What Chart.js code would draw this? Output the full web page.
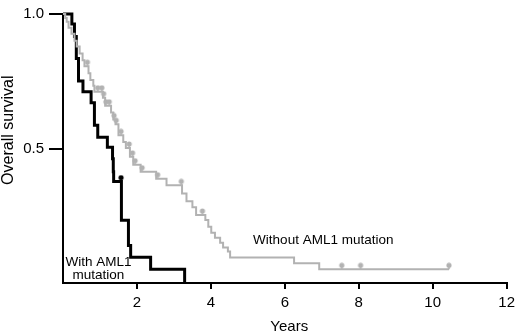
<!DOCTYPE html>
<html>
<head>
<meta charset="utf-8">
<script src="https://cdn.jsdelivr.net/npm/chart.js@4.4.1/dist/chart.umd.min.js"></script>
<style>
  html, body { margin: 0; padding: 0; background: #fff; }
  canvas { display: block; }
</style>
</head>
<body>
<canvas id="km" width="520" height="334"></canvas>
<script>
// Kaplan-Meier steps: time of drop (years) and survival after the drop
const withoutTimes = [0.06, 0.10, 0.15, 0.23, 0.31, 0.37, 0.45, 0.53, 0.58, 0.69, 0.74, 0.82, 0.85,
  1.08, 1.14, 1.30, 1.36, 1.42, 1.50, 1.63, 1.70, 1.81, 1.90, 2.10, 2.52, 2.80, 3.22, 3.34, 3.50,
  3.60, 3.85, 3.93, 4.01, 4.11, 4.25, 4.33, 4.46, 4.52, 6.25, 6.93];
const withoutSurv = [0.985, 0.971, 0.949, 0.927, 0.901, 0.879, 0.853, 0.828, 0.806, 0.780, 0.755, 0.733, 0.711,
  0.689, 0.659, 0.634, 0.608, 0.590, 0.549, 0.524, 0.502, 0.469, 0.440, 0.414, 0.388, 0.363, 0.333, 0.304, 0.282,
  0.253, 0.234, 0.209, 0.187, 0.168, 0.150, 0.132, 0.117, 0.095, 0.073, 0.051];
const withoutEnd = 10.44;
const withoutCensored = [0.66, 0.94, 1.05, 1.10, 1.16, 1.25, 1.38, 1.44, 1.57, 1.79, 1.88, 1.95, 2.14,
  2.56, 3.20, 3.77, 7.54, 8.05, 10.44];

const withTimes = [0.24, 0.31, 0.36, 0.42, 0.54, 0.76, 0.85, 0.94, 1.20, 1.34, 1.36, 1.37, 1.58, 1.77, 1.83, 2.37, 3.29];
const withSurv = [0.963, 0.916, 0.835, 0.751, 0.711, 0.670, 0.586, 0.542, 0.505, 0.462, 0.414, 0.377, 0.233, 0.139, 0.096, 0.051, 0];
const withCensored = [1.57];

const xTicks = [2, 4, 6, 8, 10, 12];
const yTicks = [0.5, 1.0];

const FONT = "'Liberation Sans', Arial, sans-serif";

// build step points starting at (0, 1)
function stepPoints(times, surv, end) {
  const pts = [{ x: 0, y: 1 }];
  times.forEach((t, i) => pts.push({ x: t, y: surv[i] }));
  if (end !== undefined) pts.push({ x: end, y: surv[surv.length - 1] });
  return pts;
}

// survival value of the curve at time t
function survAt(times, surv, t) {
  let s = 1;
  times.forEach((ti, i) => { if (ti <= t) s = surv[i]; });
  return s;
}

// censor mark: short stem with a dot on top, centered on the curve
function censorMark(color) {
  const c = document.createElement('canvas');
  c.width = 8; c.height = 14;
  const g = c.getContext('2d');
  g.strokeStyle = color;
  g.fillStyle = color;
  g.lineWidth = 1.5;
  g.beginPath(); g.moveTo(4, 7); g.lineTo(4, 3); g.stroke();
  g.beginPath(); g.arc(4, 3, 2.6, 0, Math.PI * 2); g.fill();
  return c;
}

const GRAY = '#b2b2b2';

const labelsPlugin = {
  id: 'labels',
  afterDraw(chart) {
    const { ctx, scales: { x, y }, chartArea } = chart;
    ctx.save();
    ctx.fillStyle = '#000';
    ctx.textAlign = 'center';
    ctx.textBaseline = 'middle';
    ctx.font = '13.5px ' + FONT;
    ctx.fillText('With AML1', x.getPixelForValue(0.96), y.getPixelForValue(0.078));
    ctx.fillText('mutation', x.getPixelForValue(0.96), y.getPixelForValue(0.027));
    ctx.fillText('Without AML1 mutation', x.getPixelForValue(7.04), y.getPixelForValue(0.158));
    ctx.font = '15px ' + FONT;
    ctx.fillText('Years', x.getPixelForValue(6.12), chartArea.bottom + 44);
    ctx.font = '16px ' + FONT;
    ctx.translate(9, y.getPixelForValue(0.568));
    ctx.rotate(-Math.PI / 2);
    ctx.fillText('Overall survival', 0, 0);
    ctx.restore();
  }
};

new Chart(document.getElementById('km'), {
  type: 'line',
  data: {
    datasets: [
      {
        label: 'Without AML1 mutation',
        data: stepPoints(withoutTimes, withoutSurv, withoutEnd),
        stepped: true,
        borderColor: GRAY,
        borderWidth: 2,
        pointRadius: 0,
        clip: 6,
      },
      {
        label: 'With AML1 mutation',
        data: stepPoints(withTimes, withSurv),
        stepped: true,
        borderColor: '#000',
        borderWidth: 3,
        pointRadius: 0,
        clip: 6,
      },
      {
        type: 'scatter',
        data: withoutCensored.map(t => ({ x: t, y: survAt(withoutTimes, withoutSurv, t) })),
        pointStyle: censorMark(GRAY),
        clip: 10,
      },
      {
        type: 'scatter',
        data: withCensored.map(t => ({ x: t, y: survAt(withTimes, withSurv, t) })),
        pointStyle: censorMark('#000'),
        clip: 10,
      },
    ],
  },
  options: {
    responsive: false,
    animation: false,
    layout: { padding: { top: 10, right: 9, left: 0, bottom: 0 } },
    plugins: { legend: { display: false }, tooltip: { enabled: false } },
    scales: {
      x: {
        type: 'linear',
        min: 0,
        max: 12,
        afterFit(s) { s.height = 51; },
        afterBuildTicks(s) { s.ticks = [0, ...xTicks].map(v => ({ value: v })); },
        ticks: {
          callback: v => (v === 0 ? '' : v),
          color: '#000',
          font: { family: FONT, size: 15 },
          padding: 5,
          maxRotation: 0,
        },
        grid: {
          drawOnChartArea: false,
          tickLength: 6,
          lineWidth: 2,
          color: c => (c.tick && c.tick.value === 0 ? 'rgba(0,0,0,0)' : '#000'),
        },
        border: { color: '#000', width: 2 },
      },
      y: {
        type: 'linear',
        min: 0,
        max: 1,
        afterFit(s) { s.width = 63; },
        afterBuildTicks(s) { s.ticks = [0, ...yTicks].map(v => ({ value: v })); },
        ticks: {
          callback: v => (v === 0 ? '' : v.toFixed(1)),
          color: '#000',
          font: { family: FONT, size: 15 },
          padding: 5,
        },
        grid: {
          drawOnChartArea: false,
          tickLength: 14,
          lineWidth: 2,
          color: c => (c.tick && c.tick.value === 0 ? 'rgba(0,0,0,0)' : '#000'),
        },
        border: { color: '#000', width: 2 },
      },
    },
  },
  plugins: [labelsPlugin],
});
</script>
</body>
</html>
